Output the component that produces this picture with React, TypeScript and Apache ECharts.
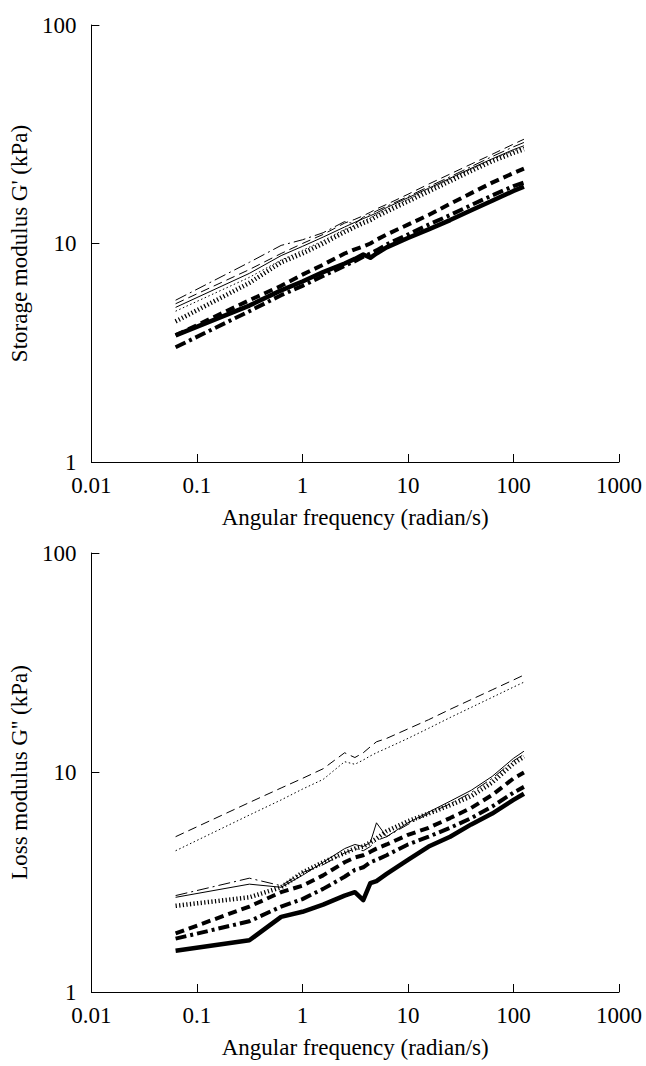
import React, { useEffect, useRef } from "react";
import * as echarts from "echarts";

// Angular frequency (rad/s) shared by all curves
const freq = [0.0628, 0.314, 0.628, 1.0, 1.57, 2.51, 3.14, 3.77, 4.4, 5.03, 6.28, 10, 15.7, 25.1, 39.8, 62.8, 100, 125.6];

// Storage modulus G' (kPa)
const gpThinSolid = [5.1, 7.3, 8.8, 9.7, 10.7, 11.9, 12.5, 13.0, 13.4, 13.8, 14.6, 16.2, 17.9, 19.9, 22.1, 24.4, 26.9, 28.0];
const gpThinDashed = [5.3, 7.6, 9.0, 10.0, 11.0, 12.4, 12.9, 13.4, 13.9, 14.4, 15.1, 16.8, 18.7, 20.8, 23.1, 25.6, 28.5, 30.0];
const gpThinDashDot = [5.5, 8.2, 9.8, 10.4, 11.2, 12.6, 12.3, 13.2, 13.6, 14.1, 14.8, 16.4, 18.2, 20.2, 22.5, 25.0, 27.7, 29.0];
const gpThinDotted = [4.9, 7.0, 8.4, 9.3, 10.3, 11.6, 12.1, 12.7, 13.1, 13.6, 14.3, 15.9, 17.7, 19.7, 21.9, 24.2, 26.6, 27.5];
const gpThickSolid = [3.8, 5.2, 6.1, 6.7, 7.4, 8.1, 8.5, 8.9, 8.6, 9.0, 9.6, 10.6, 11.6, 12.8, 14.2, 15.7, 17.4, 18.2];
const gpThickDashed = [3.8, 5.5, 6.4, 7.2, 8.0, 9.0, 9.4, 9.7, 10.0, 10.4, 11.0, 12.2, 13.5, 15.2, 17.0, 19.0, 21.0, 22.0];
const gpThickDashDot = [3.35, 4.9, 5.8, 6.4, 7.1, 7.9, 8.3, 8.7, 9.0, 9.3, 9.9, 11.0, 12.2, 13.5, 15.0, 16.6, 18.3, 19.0];
const gpThickDotted = [4.4, 6.6, 8.2, 9.0, 10.0, 11.3, 11.9, 12.4, 12.8, 13.3, 14.0, 15.6, 17.3, 19.3, 21.5, 23.8, 26.0, 27.0];

// Loss modulus G'' (kPa)
const gppThinSolid = [2.7, 3.1, 3.0, 3.4, 3.9, 4.5, 4.7, 4.6, 4.8, 5.9, 5.1, 5.9, 6.6, 7.4, 8.3, 9.6, 11.6, 12.5];
const gppThinDashed = [5.1, 7.3, 8.5, 9.4, 10.4, 12.3, 11.7, 12.3, 13.1, 13.8, 14.3, 15.8, 17.4, 19.4, 21.5, 23.8, 26.4, 27.8];
const gppThinDashDot = [2.75, 3.3, 3.05, 3.5, 3.8, 4.3, 4.5, 4.4, 4.6, 4.9, 5.1, 5.8, 6.5, 7.2, 8.1, 9.4, 11.3, 12.1];
const gppThinDotted = [4.4, 6.4, 7.5, 8.4, 9.3, 11.2, 10.9, 11.4, 11.9, 12.3, 12.9, 14.3, 15.9, 17.8, 19.8, 22.0, 24.5, 25.8];
const gppThickSolid = [1.54, 1.72, 2.2, 2.32, 2.5, 2.75, 2.85, 2.62, 3.13, 3.2, 3.45, 4.0, 4.6, 5.1, 5.8, 6.5, 7.5, 8.0];
const gppThickDashed = [1.85, 2.45, 2.85, 3.05, 3.4, 3.9, 4.1, 4.2, 4.35, 4.5, 4.7, 5.2, 5.6, 6.2, 6.9, 7.9, 9.4, 10.0];
const gppThickDashDot = [1.75, 2.1, 2.45, 2.65, 2.95, 3.35, 3.6, 3.7, 3.9, 4.0, 4.2, 4.7, 5.1, 5.6, 6.2, 7.0, 8.1, 8.6];
const gppThickDotted = [2.47, 2.7, 3.0, 3.5, 3.9, 4.3, 4.5, 4.6, 4.8, 5.0, 5.4, 6.0, 6.5, 7.1, 7.8, 9.0, 11.0, 11.8];

// Tick labels
const xTickLabels = ["0.01", "0.1", "1", "10", "100", "1000"];
const yTickLabels = ["1", "10", "100"];

const xTitle = "Angular frequency (radian/s)";
const yTitleTop = "Storage modulus G' (kPa)";
const yTitleBottom = "Loss modulus G'' (kPa)";

const FONT = "'Liberation Serif', 'Times New Roman', serif";
const FS = 23;

function fmt(labels: string[]) {
  return (v: number) => {
    for (const l of labels) {
      if (Math.abs(Math.log10(Number(l)) - Math.log10(v)) < 1e-6) return l;
    }
    return "";
  };
}

const styles: Record<string, { width: number; type: any }> = {
  thinSolid: { width: 1, type: "solid" },
  thinDashed: { width: 1, type: [9, 5] },
  thinDashDot: { width: 1, type: [12, 4, 2, 4] },
  thinDotted: { width: 1, type: [1.5, 2.5] },
  thickSolid: { width: 4.5, type: "solid" },
  thickDashed: { width: 4, type: [9, 5] },
  thickDashDot: { width: 4, type: [11, 4, 3, 4] },
  thickDotted: { width: 4.5, type: [1.2, 2.4] },
};

export default function App() {
  const ref = useRef<HTMLDivElement>(null);
  useEffect(() => {
    if (!ref.current) return;
    const chart = echarts.init(ref.current, undefined, { renderer: "svg" });

    const mk = (vals: number[], style: string, idx: number) => ({
      type: "line",
      xAxisIndex: idx,
      yAxisIndex: idx,
      data: freq.map((f, i) => [f, vals[i]]),
      showSymbol: false,
      symbol: "none",
      lineStyle: { color: "#000", width: styles[style].width, type: styles[style].type, cap: "butt", join: "round" },
      silent: true,
    });

    const xAxisBase = (idx: number) => ({
      type: "log",
      logBase: 10,
      gridIndex: idx,
      min: 0.01,
      max: 1000,
      axisLine: { show: true, lineStyle: { color: "#000", width: 1 } },
      axisTick: { show: true, inside: true, length: 8, lineStyle: { color: "#000", width: 1 } },
      minorTick: { show: false },
      splitLine: { show: false },
      axisLabel: { formatter: fmt(xTickLabels), color: "#000", fontFamily: FONT, fontSize: FS, margin: 12 },
      name: xTitle,
      nameLocation: "middle",
      nameGap: 44,
      nameTextStyle: { color: "#000", fontFamily: FONT, fontSize: FS },
    });

    const yAxisBase = (idx: number, title: string) => ({
      type: "log",
      logBase: 10,
      gridIndex: idx,
      min: 1,
      max: 100,
      axisLine: { show: true, lineStyle: { color: "#000", width: 1 } },
      axisTick: { show: true, inside: true, length: 8, lineStyle: { color: "#000", width: 1 } },
      minorTick: { show: false },
      splitLine: { show: false },
      axisLabel: { formatter: fmt(yTickLabels), color: "#000", fontFamily: FONT, fontSize: FS, margin: 15 },
      name: title,
      nameLocation: "middle",
      nameGap: 50,
      nameRotate: 90,
      nameTextStyle: { color: "#000", fontFamily: FONT, fontSize: FS },
    });

    chart.setOption({
      animation: false,
      backgroundColor: "#fff",
      grid: [
        { left: 91, right: 27, top: 25, height: 437 },
        { left: 91, right: 27, top: 553, height: 439 },
      ],
      xAxis: [xAxisBase(0), xAxisBase(1)],
      yAxis: [yAxisBase(0, yTitleTop), yAxisBase(1, yTitleBottom)],
      series: [
        mk(gpThinSolid, "thinSolid", 0),
        mk(gpThinDashed, "thinDashed", 0),
        mk(gpThinDashDot, "thinDashDot", 0),
        mk(gpThinDotted, "thinDotted", 0),
        mk(gpThickSolid, "thickSolid", 0),
        mk(gpThickDashed, "thickDashed", 0),
        mk(gpThickDashDot, "thickDashDot", 0),
        mk(gpThickDotted, "thickDotted", 0),
        mk(gppThinSolid, "thinSolid", 1),
        mk(gppThinDashed, "thinDashed", 1),
        mk(gppThinDashDot, "thinDashDot", 1),
        mk(gppThinDotted, "thinDotted", 1),
        mk(gppThickSolid, "thickSolid", 1),
        mk(gppThickDashed, "thickDashed", 1),
        mk(gppThickDashDot, "thickDashDot", 1),
        mk(gppThickDotted, "thickDotted", 1),
      ],
    });
    return () => chart.dispose();
  }, []);

  return (
    <div
      ref={ref}
      style={{ position: "fixed", left: 0, top: 0, width: 646, height: 1066, background: "#fff" }}
    />
  );
}
